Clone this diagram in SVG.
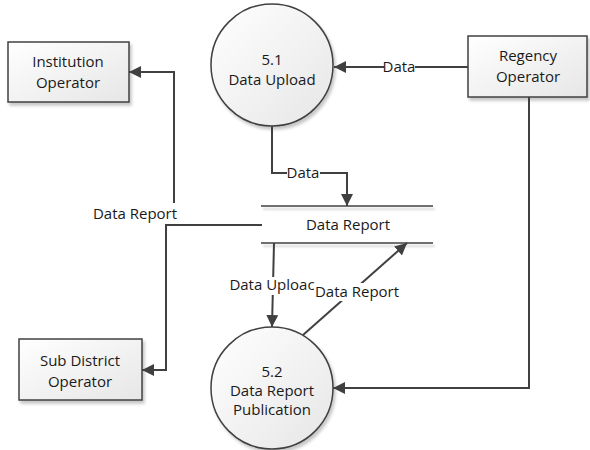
<svg xmlns="http://www.w3.org/2000/svg" width="590" height="450" viewBox="0 0 590 450">
  <style>
    .box { fill: url(#fillGrad); stroke: #404040; stroke-width: 1.5; filter: url(#shadow); }
    .proc { fill: url(#fillGrad); stroke: #404040; stroke-width: 1.5; filter: url(#shadow); }
    .store { stroke: #404040; stroke-width: 1.5; filter: url(#lineShadow); }
    .flow { fill: none; stroke: #404040; stroke-width: 2; marker-end: url(#arrow); }
    text { font-family: "Open Sans", "Noto Sans", sans-serif; font-size: 15px; fill: #1a1a1a; text-anchor: middle; }
    .lbl-bg { fill: #ffffff; }
  </style>
  <defs>
    <linearGradient id="fillGrad" x1="0" y1="0" x2="1" y2="1">
      <stop offset="0" stop-color="#ffffff"/>
      <stop offset="1" stop-color="#e6e6e6"/>
    </linearGradient>
    <filter id="shadow" x="-20%" y="-20%" width="140%" height="140%">
      <feDropShadow dx="2" dy="3" stdDeviation="1.5" flood-color="#000000" flood-opacity="0.22"/>
    </filter>
    <!-- user-space region so zero-height lines still get a shadow -->
    <filter id="lineShadow" filterUnits="userSpaceOnUse" x="250" y="195" width="200" height="60">
      <feDropShadow dx="2" dy="3" stdDeviation="1.2" flood-color="#000000" flood-opacity="0.2"/>
    </filter>
    <marker id="arrow" markerUnits="userSpaceOnUse" markerWidth="14" markerHeight="12" refX="12" refY="6" orient="auto">
      <path d="M0,0 L12,6 L0,12 z" fill="#404040"/>
    </marker>
  </defs>

  <!-- external entities -->
  <g id="institution-operator">
    <rect class="box" x="8" y="42" width="121" height="60"/>
    <text x="68" y="67">Institution</text>
    <text x="68" y="88">Operator</text>
  </g>
  <g id="regency-operator">
    <rect class="box" x="468" y="36" width="119" height="61"/>
    <text x="528" y="61">Regency</text>
    <text x="528" y="82">Operator</text>
  </g>
  <g id="sub-district-operator">
    <rect class="box" x="19" y="339" width="123" height="61"/>
    <text x="80" y="366">Sub District</text>
    <text x="80" y="387">Operator</text>
  </g>

  <!-- processes -->
  <g id="process-5-1">
    <circle class="proc" cx="272" cy="65" r="61"/>
    <text x="272" y="65">5.1</text>
    <text x="272" y="85">Data Upload</text>
  </g>
  <g id="process-5-2">
    <circle class="proc" cx="272" cy="388" r="61"/>
    <text x="272" y="377">5.2</text>
    <text x="272" y="396">Data Report</text>
    <text x="272" y="415">Publication</text>
  </g>

  <!-- data store -->
  <g id="store-data-report">
    <line class="store" x1="261" y1="206" x2="433" y2="206"/>
    <line class="store" x1="261" y1="243" x2="433" y2="243"/>
    <text x="348" y="230">Data Report</text>
  </g>

  <!-- data flows -->
  <g id="connectors">
    <path class="flow" d="M468,67 H334"/>
    <path class="flow" d="M272,126 V173 H347 V206"/>
    <path class="flow" d="M174,203 V72 H129"/>
    <path class="flow" d="M262,225 H166 V370 H142"/>
    <path class="flow" d="M274,243 L272,327"/>
    <path class="flow" d="M303,335 L407,243"/>
    <path class="flow" d="M529,97 V388 H333"/>

    <rect class="lbl-bg" x="384" y="59" width="31" height="17"/>
    <text x="399" y="72">Data</text>
    <rect class="lbl-bg" x="287" y="165" width="33" height="17"/>
    <text x="303" y="178">Data</text>
    <text x="135" y="219">Data Report</text>
    <rect class="lbl-bg" x="230" y="277" width="84" height="18"/>
    <text x="272" y="290">Data Uploac</text>
    <rect class="lbl-bg" x="314" y="283" width="86" height="18"/>
    <text x="357" y="297">Data Report</text>
  </g>
</svg>
